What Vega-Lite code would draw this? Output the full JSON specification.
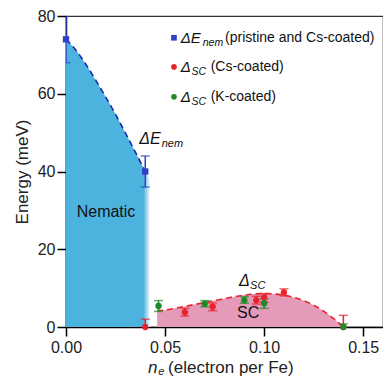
{
  "$schema": "https://vega.github.io/schema/vega-lite/v6.json",
  "width": 317,
  "height": 311,
  "autosize": {"type": "none"},
  "padding": {"left": 66, "top": 16, "right": 0, "bottom": 51},
  "background": "white",
  "config": {
    "font": "Liberation Sans",
    "view": {"stroke": "#333", "strokeWidth": 1.2},
    "axis": {
      "grid": false,
      "domainColor": "#000",
      "domainWidth": 1.5,
      "tickColor": "#000",
      "tickWidth": 1.5,
      "tickSize": 9,
      "labelFontSize": 16,
      "labelColor": "#222",
      "labelFont": "Liberation Sans",
      "labelFlush": false,
      "titleFont": "Liberation Sans",
      "titleFontWeight": "normal",
      "titleColor": "#222",
      "titleFontSize": 17
    }
  },
  "datasets": {
    "nem_curve": [
      {"x": 0, "y": 74}, {"x": 0.005, "y": 71.2}, {"x": 0.01, "y": 67.6},
      {"x": 0.015, "y": 63.5}, {"x": 0.02, "y": 59.2}, {"x": 0.025, "y": 54.7},
      {"x": 0.03, "y": 49.9}, {"x": 0.035, "y": 45.0}, {"x": 0.04, "y": 40},
      {"x": 0.0425, "y": 37.5}
    ],
    "sc_curve": [
      {"x": 0.046, "y": 4.1}, {"x": 0.05, "y": 4.4}, {"x": 0.055, "y": 4.8},
      {"x": 0.06, "y": 5.3}, {"x": 0.065, "y": 5.8}, {"x": 0.07, "y": 6.3},
      {"x": 0.075, "y": 6.8}, {"x": 0.08, "y": 7.3}, {"x": 0.085, "y": 7.8},
      {"x": 0.09, "y": 8.2}, {"x": 0.095, "y": 8.5}, {"x": 0.1, "y": 8.6},
      {"x": 0.105, "y": 8.5}, {"x": 0.11, "y": 8.2}, {"x": 0.115, "y": 7.6},
      {"x": 0.12, "y": 6.8}, {"x": 0.125, "y": 5.6}, {"x": 0.13, "y": 4.1},
      {"x": 0.135, "y": 2.2}, {"x": 0.14, "y": 0}
    ],
    "points": [
      {"series": "nem", "x": 0, "y": 74, "lo": 68, "hi": 80},
      {"series": "nem", "x": 0.04, "y": 40, "lo": 36, "hi": 44},
      {"series": "cs", "x": 0.04, "y": 0, "lo": -2, "hi": 2},
      {"series": "cs", "x": 0.06, "y": 3.8, "lo": 2.8, "hi": 4.8},
      {"series": "cs", "x": 0.074, "y": 5.2, "lo": 4.2, "hi": 6.2},
      {"series": "cs", "x": 0.096, "y": 6.9, "lo": 5.9, "hi": 7.9},
      {"series": "cs", "x": 0.1, "y": 7.6, "lo": 6.4, "hi": 8.6},
      {"series": "cs", "x": 0.11, "y": 8.9, "lo": 8.0, "hi": 9.8},
      {"series": "cs", "x": 0.14, "y": 0, "lo": -3, "hi": 3},
      {"series": "k", "x": 0.0467, "y": 5.4, "lo": 4.0, "hi": 6.8},
      {"series": "k", "x": 0.07, "y": 6.0, "lo": 5.2, "hi": 6.8},
      {"series": "k", "x": 0.09, "y": 6.9, "lo": 6.1, "hi": 7.8},
      {"series": "k", "x": 0.1, "y": 6.1, "lo": 4.8, "hi": 7.2},
      {"series": "k", "x": 0.14, "y": 0, "lo": -0.8, "hi": 0.8}
    ],
    "legend": [
      {"series": "nem", "x": 0.0545, "y": 74.4},
      {"series": "cs", "x": 0.0545, "y": 66.9},
      {"series": "k", "x": 0.0545, "y": 59.2}
    ],
    "texts": [
      {"kind": "legsym", "text": "ΔE", "x": 0.0579, "y": 74.4},
      {"kind": "legsub", "text": "nem", "x": 0.069, "y": 74.4},
      {"kind": "legdesc", "text": "(pristine and Cs-coated)", "x": 0.0803, "y": 74.4},
      {"kind": "legsym", "text": "Δ", "x": 0.0579, "y": 66.9},
      {"kind": "legsub", "text": "SC", "x": 0.0634, "y": 66.9},
      {"kind": "legdesc", "text": "(Cs-coated)", "x": 0.073, "y": 66.9},
      {"kind": "legsym", "text": "Δ", "x": 0.0579, "y": 59.2},
      {"kind": "legsub", "text": "SC", "x": 0.0634, "y": 59.2},
      {"kind": "legdesc", "text": "(K-coated)", "x": 0.073, "y": 59.2},
      {"kind": "annsym", "text": "ΔE", "x": 0.037, "y": 48.4},
      {"kind": "annsub", "text": "nem", "x": 0.0483, "y": 48.4},
      {"kind": "annsym", "text": "Δ", "x": 0.0873, "y": 11.9},
      {"kind": "annsub", "text": "SC", "x": 0.0929, "y": 11.9},
      {"kind": "label", "text": "Nematic", "x": 0.0202, "y": 29.6},
      {"kind": "label", "text": "SC", "x": 0.0919, "y": 3.5},
      {"kind": "xsym", "text": "n", "x": 0.0414, "y": -10.55},
      {"kind": "xsub", "text": "e", "x": 0.0466, "y": -10.55},
      {"kind": "xdesc", "text": "(electron per Fe)", "x": 0.0515, "y": -10.55}
    ]
  },
  "encoding": {
    "x": {
      "field": "x", "type": "quantitative",
      "scale": {"domain": [0, 0.16], "nice": false, "zero": false},
      "axis": {"values": [0, 0.05, 0.1, 0.15], "format": ".2f", "title": null, "labelPadding": 3}
    },
    "y": {
      "field": "y", "type": "quantitative",
      "scale": {"domain": [0, 80], "nice": false},
      "axis": {"values": [0, 20, 40, 60, 80], "title": "Energy (meV)", "labelPadding": 2, "titlePadding": 6}
    }
  },
  "layer": [
    {
      "data": {"name": "nem_curve"},
      "mark": {
        "type": "area", "interpolate": "monotone",
        "color": {
          "gradient": "linear", "x1": 0, "y1": 0, "x2": 1, "y2": 0,
          "stops": [
            {"offset": 0, "color": "#4cb3de"},
            {"offset": 0.92, "color": "#4cb3de"},
            {"offset": 1, "color": "#ffffff"}
          ]
        }
      },
      "encoding": {}
    },
    {
      "data": {"name": "sc_curve"},
      "mark": {"type": "area", "interpolate": "monotone", "color": "#e59aba"},
      "encoding": {}
    },
    {
      "data": {"name": "nem_curve"},
      "transform": [{"filter": "datum.x <= 0.0415"}],
      "mark": {"type": "line", "interpolate": "monotone", "color": "#1a2ab0", "strokeWidth": 1.6, "strokeDash": [6, 4]},
      "encoding": {}
    },
    {
      "data": {"name": "sc_curve"},
      "mark": {"type": "line", "interpolate": "monotone", "color": "#e8232b", "strokeWidth": 1.6, "strokeDash": [6, 4]},
      "encoding": {}
    },
    {
      "data": {"name": "points"},
      "mark": {"type": "rule", "strokeWidth": 1.5, "clip": true},
      "encoding": {
        "y": {"field": "lo", "type": "quantitative"},
        "y2": {"field": "hi"},
        "color": {"field": "series", "type": "nominal", "scale": {"domain": ["nem", "cs", "k"], "range": ["#3040c8", "#e8232b", "#1f8a2a"]}, "legend": null}
      }
    },
    {
      "data": {"name": "points"},
      "mark": {"type": "tick", "orient": "horizontal", "size": 9, "thickness": 1.5, "clip": true},
      "encoding": {
        "y": {"field": "lo", "type": "quantitative"},
        "color": {"field": "series", "type": "nominal", "legend": null}
      }
    },
    {
      "data": {"name": "points"},
      "mark": {"type": "tick", "orient": "horizontal", "size": 9, "thickness": 1.5, "clip": true},
      "encoding": {
        "y": {"field": "hi", "type": "quantitative"},
        "color": {"field": "series", "type": "nominal", "legend": null}
      }
    },
    {
      "data": {"name": "points"},
      "mark": {"type": "point", "filled": true, "opacity": 1, "size": 40},
      "encoding": {
        "color": {"field": "series", "type": "nominal", "scale": {"domain": ["nem", "cs", "k"], "range": ["#1020b0", "#e8232b", "#1f8a2a"]}, "legend": null},
        "shape": {"field": "series", "type": "nominal", "scale": {"domain": ["nem", "cs", "k"], "range": ["square", "circle", "circle"]}, "legend": null}
      }
    },
    {
      "data": {"name": "legend"},
      "mark": {"type": "point", "filled": true, "opacity": 1, "size": 32},
      "encoding": {
        "color": {"field": "series", "type": "nominal", "legend": null},
        "shape": {"field": "series", "type": "nominal", "legend": null}
      }
    },
    {
      "data": {"name": "texts"},
      "transform": [{"filter": "datum.kind == 'legsym'"}],
      "mark": {"type": "text", "align": "left", "baseline": "middle", "fontSize": 15, "fontStyle": "italic", "color": "#111"},
      "encoding": {"text": {"field": "text"}}
    },
    {
      "data": {"name": "texts"},
      "transform": [{"filter": "datum.kind == 'legsub'"}],
      "mark": {"type": "text", "align": "left", "baseline": "middle", "fontSize": 10.5, "fontStyle": "italic", "dy": 5, "color": "#111"},
      "encoding": {"text": {"field": "text"}}
    },
    {
      "data": {"name": "texts"},
      "transform": [{"filter": "datum.kind == 'legdesc'"}],
      "mark": {"type": "text", "align": "left", "baseline": "middle", "fontSize": 14, "color": "#111"},
      "encoding": {"text": {"field": "text"}}
    },
    {
      "data": {"name": "texts"},
      "transform": [{"filter": "datum.kind == 'annsym'"}],
      "mark": {"type": "text", "align": "left", "baseline": "middle", "fontSize": 16, "fontStyle": "italic", "color": "#111"},
      "encoding": {"text": {"field": "text"}}
    },
    {
      "data": {"name": "texts"},
      "transform": [{"filter": "datum.kind == 'annsub'"}],
      "mark": {"type": "text", "align": "left", "baseline": "middle", "fontSize": 11, "fontStyle": "italic", "dy": 5, "color": "#111"},
      "encoding": {"text": {"field": "text"}}
    },
    {
      "data": {"name": "texts"},
      "transform": [{"filter": "datum.kind == 'label'"}],
      "mark": {"type": "text", "align": "center", "baseline": "middle", "fontSize": 16, "color": "#111"},
      "encoding": {"text": {"field": "text"}}
    },
    {
      "data": {"name": "texts"},
      "transform": [{"filter": "datum.kind == 'xsym'"}],
      "mark": {"type": "text", "align": "left", "baseline": "middle", "fontSize": 17, "fontStyle": "italic", "color": "#222"},
      "encoding": {"text": {"field": "text"}}
    },
    {
      "data": {"name": "texts"},
      "transform": [{"filter": "datum.kind == 'xsub'"}],
      "mark": {"type": "text", "align": "left", "baseline": "middle", "fontSize": 11, "fontStyle": "italic", "dy": 4, "color": "#222"},
      "encoding": {"text": {"field": "text"}}
    },
    {
      "data": {"name": "texts"},
      "transform": [{"filter": "datum.kind == 'xdesc'"}],
      "mark": {"type": "text", "align": "left", "baseline": "middle", "fontSize": 17, "color": "#222"},
      "encoding": {"text": {"field": "text"}}
    }
  ]
}
